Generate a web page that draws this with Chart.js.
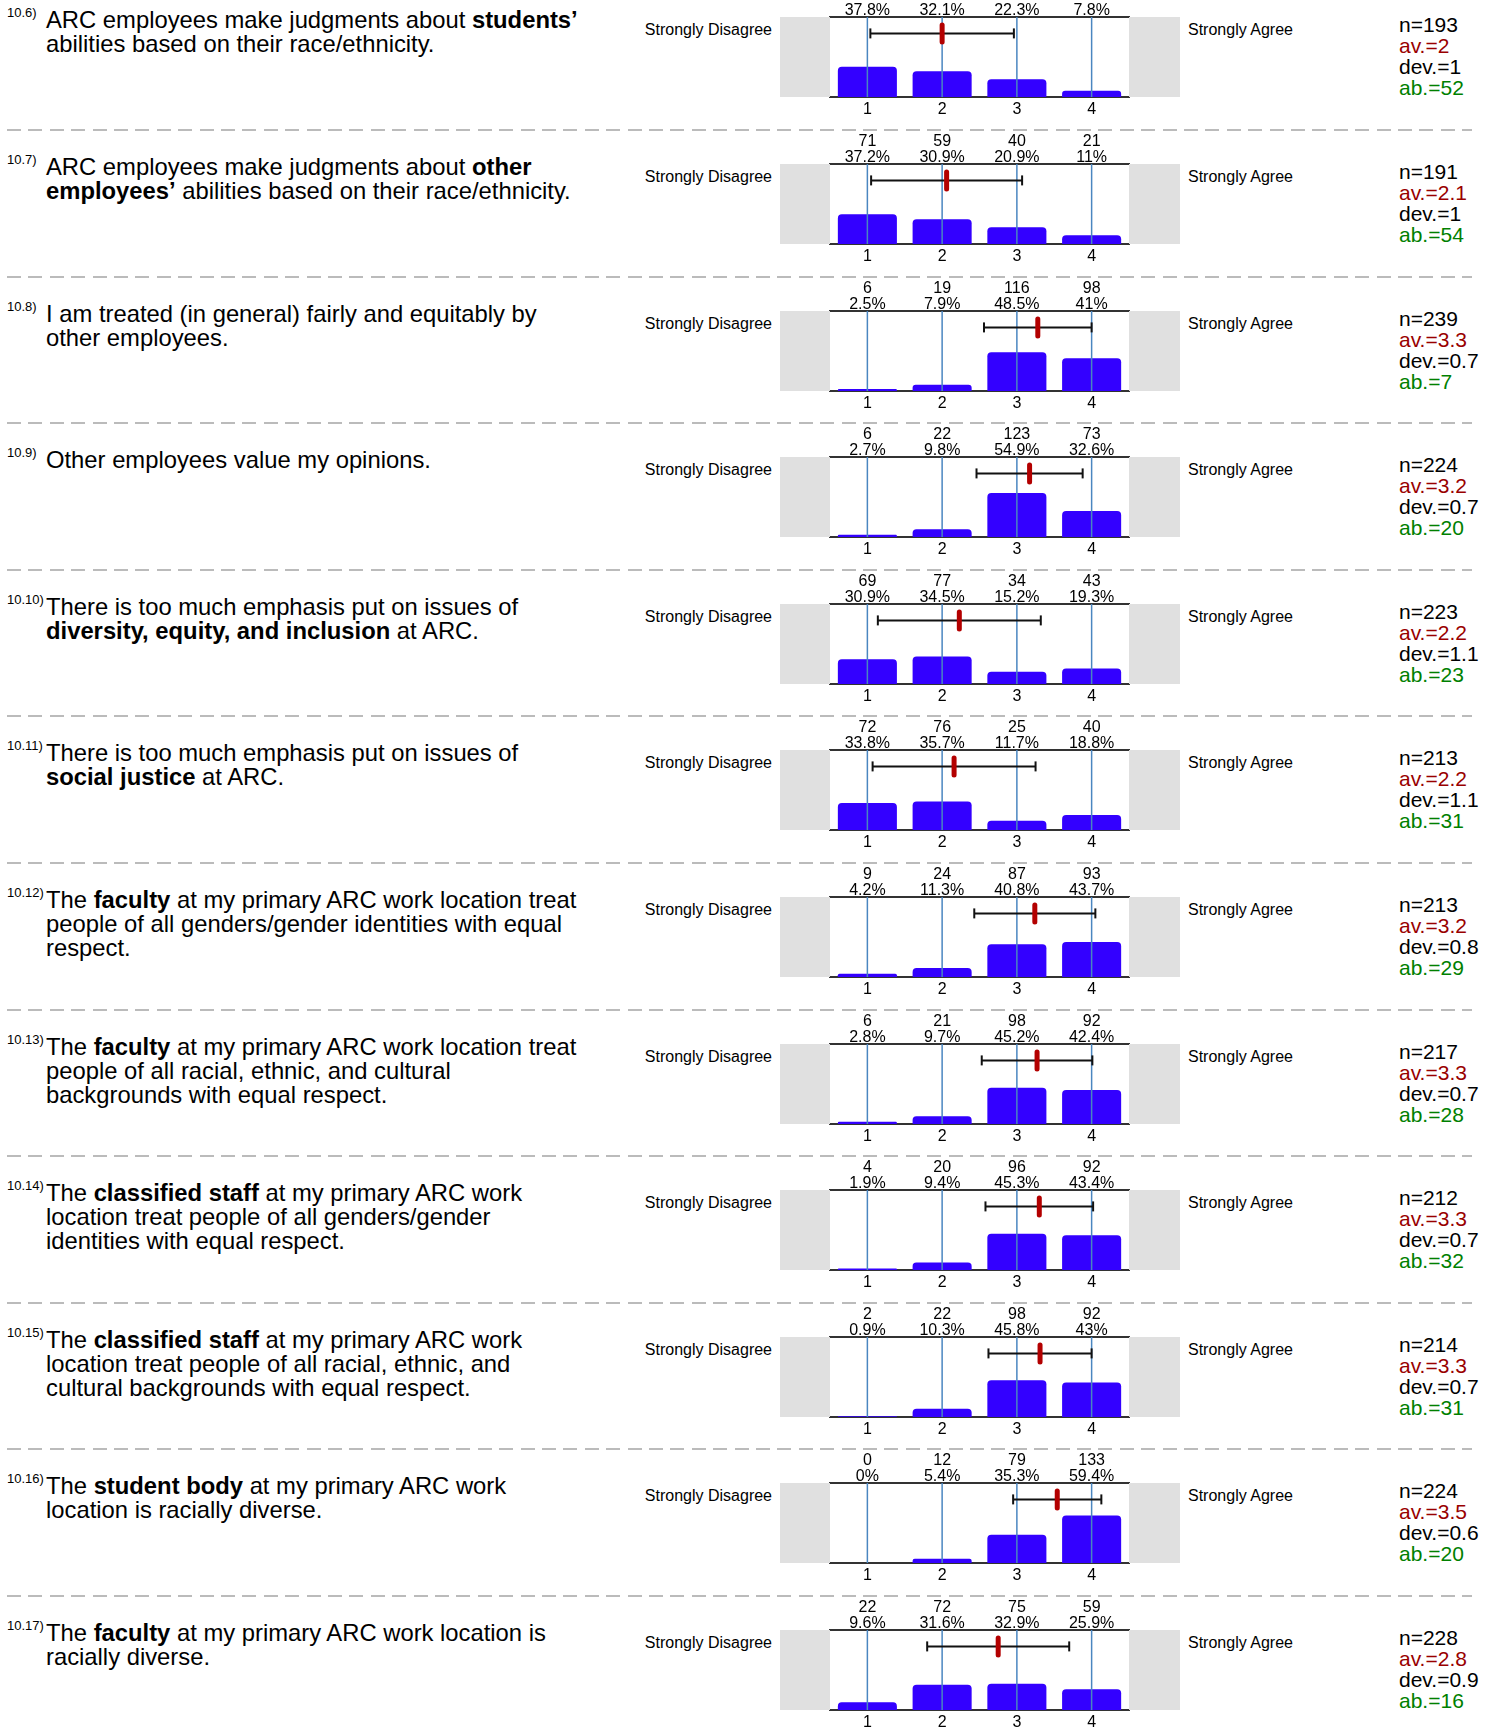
<!DOCTYPE html>
<html>
<head>
<meta charset="utf-8">
<title>ARC survey 10.6 - 10.17</title>
<script src="https://cdn.jsdelivr.net/npm/chart.js@4.4.0/dist/chart.umd.min.js"></script>
<style>
  html, body { margin: 0; padding: 0; background: #fff; }
  body { width: 1497px; height: 1727px; overflow: hidden; position: relative;
         font-family: 'Liberation Sans', Arial, sans-serif; color: #000; }
  .abs { position: absolute; white-space: nowrap; }
  .sep { position: absolute; left: 7px; width: 1465px; height: 2px;
         background: repeating-linear-gradient(to right, #bbb 0 14px, transparent 14px 21.4px); }
  .num { font-size: 13px; line-height: 13px; }
  .q { font-size: 23.8px; line-height: 24px; }
  .lbl { font-size: 16px; line-height: 16px; }
  .stats { font-size: 21px; line-height: 21px; }
  .av { color: #990000; }
  .ab { color: #008000; }
</style>
</head>
<body>
<script>
// values
const questionNumbers = ['10.6)', '10.7)', '10.8)', '10.9)', '10.10)', '10.11)',
  '10.12)', '10.13)', '10.14)', '10.15)', '10.16)', '10.17)'];

const questionTexts = [
  'ARC employees make judgments about <b>students\u2019</b><br>abilities based on their race/ethnicity.',
  'ARC employees make judgments about <b>other<br>employees\u2019</b> abilities based on their race/ethnicity.',
  'I am treated (in general) fairly and equitably by<br>other employees.',
  'Other employees value my opinions.',
  'There is too much emphasis put on issues of<br><b>diversity, equity, and inclusion</b> at ARC.',
  'There is too much emphasis put on issues of<br><b>social justice</b> at ARC.',
  'The <b>faculty</b> at my primary ARC work location treat<br>people of all genders/gender identities with equal<br>respect.',
  'The <b>faculty</b> at my primary ARC work location treat<br>people of all racial, ethnic, and cultural<br>backgrounds with equal respect.',
  'The <b>classified staff</b> at my primary ARC work<br>location treat people of all genders/gender<br>identities with equal respect.',
  'The <b>classified staff</b> at my primary ARC work<br>location treat people of all racial, ethnic, and<br>cultural backgrounds with equal respect.',
  'The <b>student body</b> at my primary ARC work<br>location is racially diverse.',
  'The <b>faculty</b> at my primary ARC work location is<br>racially diverse.'
];

const scaleLabels = ['1', '2', '3', '4'];
const leftPole = 'Strongly Disagree';
const rightPole = 'Strongly Agree';

const counts = [
  [73, 62, 43, 15], [71, 59, 40, 21], [6, 19, 116, 98], [6, 22, 123, 73],
  [69, 77, 34, 43], [72, 76, 25, 40], [9, 24, 87, 93], [6, 21, 98, 92],
  [4, 20, 96, 92], [2, 22, 98, 92], [0, 12, 79, 133], [22, 72, 75, 59]
];

const percents = [
  [37.8, 32.1, 22.3, 7.8], [37.2, 30.9, 20.9, 11], [2.5, 7.9, 48.5, 41], [2.7, 9.8, 54.9, 32.6],
  [30.9, 34.5, 15.2, 19.3], [33.8, 35.7, 11.7, 18.8], [4.2, 11.3, 40.8, 43.7], [2.8, 9.7, 45.2, 42.4],
  [1.9, 9.4, 45.3, 43.4], [0.9, 10.3, 45.8, 43], [0, 5.4, 35.3, 59.4], [9.6, 31.6, 32.9, 25.9]
];

const nValues = [193, 191, 239, 224, 223, 213, 213, 217, 212, 214, 224, 228];
const avLabels = ['2', '2.1', '3.3', '3.2', '2.2', '2.2', '3.2', '3.3', '3.3', '3.3', '3.5', '2.8'];
const devLabels = ['1', '1', '0.7', '0.7', '1.1', '1.1', '0.8', '0.7', '0.7', '0.7', '0.6', '0.9'];
const abstentions = [52, 54, 7, 20, 23, 31, 29, 28, 32, 31, 20, 16];

// marker position and whisker half-width on the 1..4 scale
const means = [2.00, 2.06, 3.28, 3.17, 2.23, 2.16, 3.24, 3.27, 3.30, 3.31, 3.54, 2.75];
const stdDevs = [0.96, 1.01, 0.72, 0.71, 1.09, 1.09, 0.81, 0.74, 0.72, 0.69, 0.59, 0.95];

const ROW_H = 146.6;
const FIRST_ROW_TOP = -16.6;
const MARK_Y = 79.5;

Chart.defaults.font.family = "'Liberation Sans', Arial, sans-serif";
Chart.defaults.color = '#000';

const tickFont = { size: 16, lineHeight: 1 };

// grey side panels and the blue category lines (drawn over the bars)
const backdrop = {
  id: 'backdrop',
  beforeDatasetsDraw(chart) {
    const { ctx, chartArea: a, width } = chart;
    ctx.save();
    ctx.fillStyle = '#e0e0e0';
    ctx.fillRect(0, a.top, a.left, a.bottom - a.top);
    ctx.fillRect(a.right, a.top, width - a.right, a.bottom - a.top);
    ctx.restore();
  },
  afterDatasetDraw(chart, args) {
    if (args.index !== 0) return;
    const { ctx, chartArea: a, scales } = chart;
    ctx.save();
    ctx.strokeStyle = '#4a86c0';
    ctx.lineWidth = 1.5;
    scaleLabels.forEach((_, k) => {
      const x = scales.x.getPixelForValue(k);
      ctx.beginPath();
      ctx.moveTo(x, a.top);
      ctx.lineTo(x, a.bottom);
      ctx.stroke();
    });
    ctx.restore();
  }
};

function addText(cls, left, top, html, extra) {
  const el = document.createElement('div');
  el.className = 'abs ' + cls;
  el.style.left = left + 'px';
  el.style.top = top + 'px';
  if (extra) Object.assign(el.style, extra);
  el.innerHTML = html;
  document.body.appendChild(el);
  return el;
}

function buildRow(i) {
  const top = Math.round(FIRST_ROW_TOP + i * ROW_H);

  if (i > 0) {
    const sep = document.createElement('div');
    sep.className = 'sep';
    sep.style.top = (top - 1) + 'px';
    document.body.appendChild(sep);
  }

  addText('num', 7, top + 23, questionNumbers[i]);
  addText('q', 46, top + 25, questionTexts[i]);
  addText('lbl', 0, top + 39, leftPole, { left: 'auto', right: (1497 - 772) + 'px' });
  addText('lbl', 1188, top + 39, rightPole);
  addText('stats', 1399, top + 31,
    'n=' + nValues[i] + '<br><span class="av">av.=' + avLabels[i] + '</span><br>dev.=' +
    devLabels[i] + '<br><span class="ab">ab.=' + abstentions[i] + '</span>');

  const canvas = document.createElement('canvas');
  canvas.width = 400;
  canvas.height = 146;
  canvas.style.position = 'absolute';
  canvas.style.left = '780px';
  canvas.style.top = top + 'px';
  document.body.appendChild(canvas);

  const topLabels = counts[i].map((c, k) => [String(c), percents[i][k] + '%']);

  new Chart(canvas.getContext('2d'), {
    type: 'bar',
    data: {
      labels: scaleLabels,
      datasets: [
        {
          type: 'bar',
          xAxisID: 'x',
          data: percents[i],
          backgroundColor: '#3300ff',
          borderRadius: { topLeft: 4, topRight: 4 },
          borderSkipped: 'bottom',
          grouped: false,
          categoryPercentage: 1,
          barPercentage: 0.79,
          order: 3
        },
        {
          type: 'line',
          xAxisID: 'xl',
          data: [{ x: means[i] - stdDevs[i], y: MARK_Y }, { x: means[i] + stdDevs[i], y: MARK_Y }],
          borderColor: '#111',
          borderWidth: 2,
          pointStyle: 'line',
          pointRadius: 5,
          pointRotation: 90,
          pointBorderWidth: 2,
          pointBorderColor: '#111',
          order: 2
        },
        {
          type: 'line',
          xAxisID: 'xl',
          data: [{ x: means[i], y: MARK_Y - 10.6 }, { x: means[i], y: MARK_Y + 10.6 }],
          borderColor: '#b30000',
          borderWidth: 5,
          borderCapStyle: 'round',
          pointRadius: 0,
          order: 1
        }
      ]
    },
    options: {
      responsive: false,
      animation: false,
      events: [],
      layout: { padding: { left: 50, right: 51, top: 0, bottom: 0 } },
      plugins: {
        legend: { display: false },
        tooltip: { enabled: false }
      },
      scales: {
        x: {
          type: 'category',
          position: 'bottom',
          offset: true,
          grid: { display: false, drawTicks: false },
          border: { display: true, color: '#333', width: 2 },
          ticks: { font: tickFont, padding: 5, autoSkip: false, maxRotation: 0 },
          afterFit: (s) => { s.height = 32; }
        },
        xt: {
          type: 'category',
          position: 'top',
          labels: topLabels,
          offset: true,
          grid: { display: false, drawTicks: false },
          border: { display: true, color: '#333', width: 2 },
          ticks: { font: tickFont, padding: -2, autoSkip: false, maxRotation: 0 },
          afterFit: (s) => { s.height = 34; }
        },
        xl: {
          type: 'linear',
          display: false,
          offset: false,
          min: 0.5,
          max: 4.5
        },
        y: {
          type: 'linear',
          display: false,
          min: 0,
          max: 100
        }
      }
    },
    plugins: [backdrop]
  });
}

questionNumbers.forEach((_, i) => buildRow(i));
</script>
</body>
</html>
